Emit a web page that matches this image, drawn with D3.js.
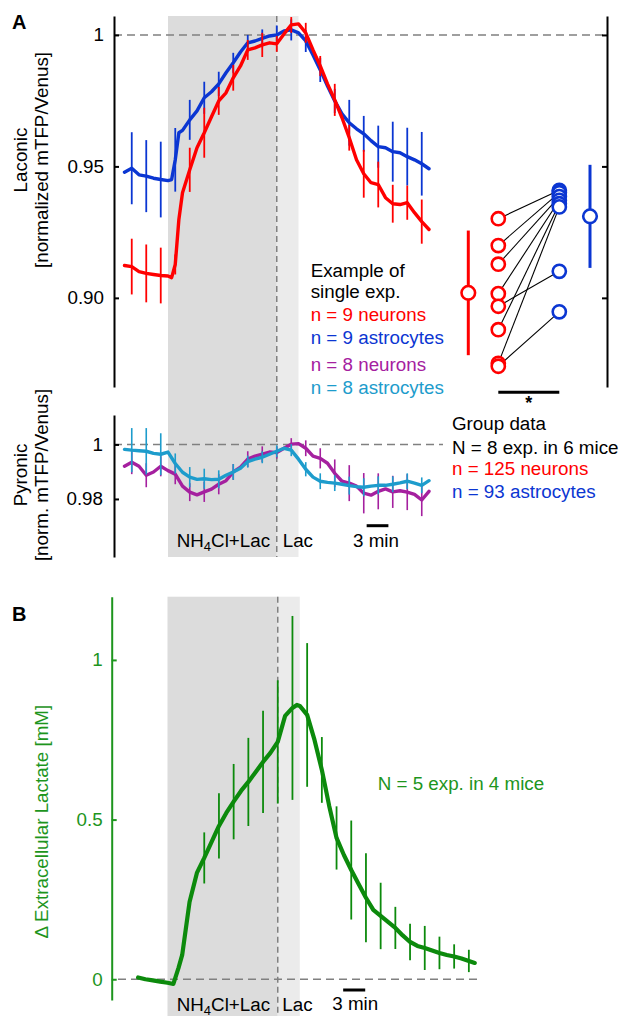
<!DOCTYPE html>
<html><head><meta charset="utf-8">
<script src="https://cdn.jsdelivr.net/npm/d3@7"></script>
<style>body{margin:0;background:#fff}svg{display:block}text{font-family:"Liberation Sans",Arial,Helvetica,sans-serif}</style>
</head><body><svg id="c" width="620" height="1016"></svg>
<script>
// ---------- DATA ----------
// epochs (min): NH4Cl+Lac onset, switch to Lac, end of Lac
const epochs = [0, 15, 18];

// Laconic (panel A top), single experiment
const lacTime   = [-6,-5,-4,-3,-2,-1,0,0.5,1,1.5,2,3,4,5,6,7,8,9,10,11,12,13,14,15,16,17,18,19,20,21,22,23,24,25,26,27,28,29,30,31,32,33,34,35,36];
const lacAstro  = [0.9478,0.9493,0.9468,0.9463,0.9455,0.9450,0.9446,0.9450,0.9525,0.9628,0.9637,0.9677,0.9711,0.9761,0.9784,0.9814,0.9856,0.9894,0.9935,0.9970,0.9977,0.9987,0.9996,1.0000,1.0015,1.0019,1.0008,0.9977,0.9924,0.9867,0.9806,0.9749,0.9700,0.9666,0.9643,0.9624,0.9598,0.9575,0.9571,0.9556,0.9552,0.9537,0.9525,0.9510,0.9491];
const lacNeuron = [0.9123,0.9119,0.9100,0.9093,0.9089,0.9085,0.9083,0.9077,0.9127,0.9298,0.9400,0.9487,0.9571,0.9628,0.9689,0.9749,0.9780,0.9837,0.9882,0.9943,0.9951,0.9962,0.9970,0.9966,1.0004,1.0038,1.0042,1.0008,0.9943,0.9882,0.9814,0.9753,0.9685,0.9609,0.9525,0.9472,0.9438,0.9431,0.9381,0.9358,0.9355,0.9362,0.9324,0.9290,0.9260];
const errTime   = [-5,-3,-1,1,3,5,7,9,11,13,15,17,19,21,23,25,27,29,31,33,35];
const lacAstroSem  = [0.0137,0.0137,0.0144,0.0121,0.0076,0.0061,0.0046,0.0038,0.0030,0.0034,0.0036,0.0040,0.0042,0.0046,0.0046,0.0087,0.0068,0.0080,0.0114,0.0110,0.0121];
const lacNeuronSem = [0.0106,0.0110,0.0106,0.0038,0.0084,0.0095,0.0053,0.0049,0.0038,0.0046,0.0030,0.0030,0.0038,0.0038,0.0061,0.0049,0.0091,0.0087,0.0072,0.0065,0.0084];

// Pyronic (panel A bottom)
const pyrTime   = [-6,-5,-4,-3,-2,-1,0,1,2,3,4,5,6,7,8,9,10,11,12,13,14,15,16,17,18,19,20,21,22,23,24,25,26,27,28,29,30,31,32,33,34,35,36];
const pyrAstro  = [0.9982,0.9979,0.9977,0.9975,0.9967,0.9964,0.9972,0.9930,0.9898,0.9880,0.9872,0.9874,0.9871,0.9872,0.9887,0.9899,0.9913,0.9937,0.9946,0.9953,0.9964,0.9975,0.9986,0.9979,0.9946,0.9909,0.9880,0.9865,0.9861,0.9858,0.9854,0.9849,0.9845,0.9843,0.9847,0.9850,0.9850,0.9854,0.9859,0.9865,0.9858,0.9850,0.9867];
const pyrNeuron = [0.9920,0.9935,0.9920,0.9887,0.9899,0.9920,0.9904,0.9891,0.9847,0.9825,0.9815,0.9826,0.9836,0.9854,0.9867,0.9899,0.9917,0.9946,0.9957,0.9964,0.9972,0.9970,0.9986,1.0001,1.0003,0.9986,0.9957,0.9949,0.9931,0.9894,0.9865,0.9858,0.9847,0.9821,0.9814,0.9828,0.9837,0.9826,0.9830,0.9825,0.9817,0.9796,0.9828];
const pyrAstroSem  = [0.0081,0.0085,0.0077,0.0037,0.0037,0.0037,0.0033,0.0029,0.0022,0.0022,0.0022,0.0022,0.0026,0.0029,0.0029,0.0033,0.0033,0.0033,0.0029,0.0029,0.0029];
const pyrNeuronSem = [0.0044,0.0044,0.0037,0.0037,0.0033,0.0037,0.0037,0.0029,0.0029,0.0029,0.0022,0.0022,0.0029,0.0037,0.0051,0.0066,0.0074,0.0066,0.0059,0.0066,0.0059];

// Group data (Laconic)
const grpCols    = ["neuronMean","neurons","astrocytes","astroMean"];
const grpNeurons = [0.9301,0.9199,0.9128,0.9016,0.8968,0.8879,0.8751,0.8740];
const grpAstro   = [0.9409,0.9400,0.9385,0.9371,0.9101,0.9358,0.9346,0.8947];
const grpMean    = [0.9019,0.9310];
const grpSem     = [0.0237,0.0196];

// Panel B: extracellular lactate
const lactTime = [-4,-3,-2,-1,0,0.8,1.5,2,3,4,5,6,7,8,9,10,11,12,13,14,15,16,17,17.6,18,19,20,21,22,23,24,25,26,27,28,29,30,31,32,33,34,35,36,37,38,39,40,41,41.8];
const lactVals = [0.0056,0.0000,-0.0035,-0.0075,-0.0110,-0.0147,0.0354,0.0761,0.2420,0.3329,0.3799,0.4300,0.4801,0.5208,0.5562,0.5897,0.6179,0.6492,0.6806,0.7087,0.7432,0.8246,0.8497,0.8591,0.8559,0.8277,0.7494,0.6555,0.5427,0.4425,0.3890,0.3420,0.2985,0.2552,0.2170,0.1982,0.1795,0.1607,0.1372,0.1168,0.1043,0.0980,0.0902,0.0824,0.0761,0.0714,0.0651,0.0573,0.0510];
const lactErrTime = [5,7,9,11,13,15,17,19,21,23,25,27,29,31,33,35,37,39,41];
const lactSem = [0.080,0.102,0.118,0.138,0.160,0.193,0.288,0.225,0.103,0.099,0.155,0.139,0.104,0.066,0.057,0.069,0.051,0.038,0.035];

const lacTicks = [0.90,0.95,1];
const pyrTicks = [0.98,1];
const lactTicks = [0,0.5,1];

// ---------- DRAWING ----------
const svg = d3.select("#c");
const FONT = 18.8;
const RED="#ff0000", BLUE="#0b36d2", PURPLE="#a5209f", CYAN="#1d9ccc", GREEN="#0c8a0c", GREENT="#1d951d", GREY="#808080";

const xA = d3.scaleLinear().domain([-6.5,36.5]).range([120.875,432.625]);
const yL = d3.scaleLinear().domain([0.8661,1.0072]).range([387,16]);
const yP = d3.scaleLinear().domain([0.9587,1.0108]).range([557,415]);
const xB = d3.scaleLinear().domain([-5,43]).range([130.75,483.55]);
const yB = d3.scaleLinear().domain([-0.065,1.198]).range([1000,596.7]);

function shade(x,y0,y1){
  svg.append("rect").attr("x",x(epochs[0])).attr("y",y0).attr("width",x(epochs[1])-x(epochs[0])).attr("height",y1-y0).attr("fill","#dcdcdc");
  svg.append("rect").attr("x",x(epochs[1])).attr("y",y0).attr("width",x(epochs[2])-x(epochs[1])).attr("height",y1-y0).attr("fill","#ebebeb");
  svg.append("line").attr("x1",x(epochs[1])).attr("x2",x(epochs[1])).attr("y1",y0).attr("y2",y1)
    .attr("stroke",GREY).attr("stroke-width",1.5).attr("stroke-dasharray","6,4");
}
function hdash(y,x0,x1){
  svg.append("line").attr("x1",x0).attr("x2",x1).attr("y1",y).attr("y2",y)
    .attr("stroke",GREY).attr("stroke-width",1.5).attr("stroke-dasharray","8,5");
}
function trace(x,y,times,vals,color,w){
  const line = d3.line().x((d,i)=>x(times[i])).y(d=>y(d));
  svg.append("path").datum(vals).attr("d",line).attr("fill","none").attr("stroke",color)
    .attr("stroke-width",w).attr("stroke-linejoin","round").attr("stroke-linecap","round");
}
function bars(x,y,times,vals,bt,sem,color,w){
  svg.append("g").selectAll("line").data(bt).join("line")
    .attr("x1",t=>x(t)).attr("x2",t=>x(t))
    .attr("y1",(t,i)=>y(vals[times.indexOf(t)]+sem[i]))
    .attr("y2",(t,i)=>y(vals[times.indexOf(t)]-sem[i]))
    .attr("stroke",color).attr("stroke-width",w);
}
function styleAxis(g,color,w){
  g.attr("font-size",FONT).attr("font-family",'"Liberation Sans",Arial,sans-serif');
  g.select(".domain").attr("stroke",color).attr("stroke-width",w);
  g.selectAll(".tick line").attr("stroke",color).attr("stroke-width",w);
  g.selectAll(".tick text").attr("fill",color);
}
function txt(x,y,s,color,opts={}){
  const t = svg.append("text").attr("x",x).attr("y",y).attr("font-size",opts.size||FONT).attr("fill",color||"#000").text(s);
  if(opts.anchor) t.attr("text-anchor",opts.anchor);
  if(opts.weight) t.attr("font-weight",opts.weight);
  return t;
}
function vtxt(x,y,s,color){
  svg.append("text").attr("transform",`translate(${x},${y}) rotate(-90)`).attr("text-anchor","middle")
    .attr("font-size",FONT).attr("fill",color||"#000").text(s);
}
function stimLabel(x,y,xlac){
  const t = svg.append("text").attr("x",x).attr("y",y).attr("font-size",FONT);
  t.append("tspan").text("NH");
  t.append("tspan").text("4").attr("font-size",13).attr("dy",4);
  t.append("tspan").text("Cl+Lac").attr("dy",-4);
  txt(xlac,y,"Lac");
}
function scaleBar(x,t0,yb,yt,xtext){
  svg.append("line").attr("x1",x(t0)).attr("x2",x(t0+3)).attr("y1",yb).attr("y2",yb).attr("stroke","#000").attr("stroke-width",3);
  txt(xtext,yt,"3 min");
}

// ----- Panel A -----
shade(xA,16,557);
hdash(yL(1),114,607);
hdash(yP(1),114,443);

trace(xA,yL,lacTime,lacAstro,BLUE,3.4);
bars(xA,yL,lacTime,lacAstro,errTime,lacAstroSem,BLUE,1.8);
trace(xA,yL,lacTime,lacNeuron,RED,3.4);
bars(xA,yL,lacTime,lacNeuron,errTime,lacNeuronSem,RED,1.8);

trace(xA,yP,pyrTime,pyrNeuron,PURPLE,3.4);
bars(xA,yP,pyrTime,pyrNeuron,errTime,pyrNeuronSem,PURPLE,1.6);
trace(xA,yP,pyrTime,pyrAstro,CYAN,3.4);
bars(xA,yP,pyrTime,pyrAstro,errTime,pyrAstroSem,CYAN,1.6);

svg.append("g").attr("transform","translate(114,0)")
  .call(d3.axisLeft(yL).tickValues(lacTicks).tickFormat(d=>d===1?"1":d3.format(".2f")(d)).tickSize(-5).tickSizeOuter(0).tickPadding(10))
  .call(g=>styleAxis(g,"#000",2));
svg.append("g").attr("transform","translate(607,0)")
  .call(d3.axisRight(yL).tickValues(lacTicks).tickFormat("").tickSize(-5).tickSizeOuter(0))
  .call(g=>styleAxis(g,"#000",2));
svg.append("g").attr("transform","translate(114,0)")
  .call(d3.axisLeft(yP).tickValues(pyrTicks).tickFormat(d=>d===1?"1":d3.format(".2f")(d)).tickSize(-5).tickSizeOuter(0).tickPadding(11))
  .call(g=>styleAxis(g,"#000",2));

// group data
const xG = d3.scaleOrdinal().domain(grpCols).range([468.3,498.3,559.3,590]);
svg.append("g").selectAll("line").data(grpNeurons).join("line")
  .attr("x1",xG("neurons")).attr("x2",xG("astrocytes"))
  .attr("y1",d=>yL(d)).attr("y2",(d,i)=>yL(grpAstro[i]))
  .attr("stroke","#000").attr("stroke-width",1.1);
[["neuronMean",RED],["astroMean",BLUE]].forEach(([k,c],i)=>{
  svg.append("line").attr("x1",xG(k)).attr("x2",xG(k)).attr("y1",yL(grpMean[i]+grpSem[i])).attr("y2",yL(grpMean[i]-grpSem[i]))
    .attr("stroke",c).attr("stroke-width",3);
  svg.append("circle").attr("cx",xG(k)).attr("cy",yL(grpMean[i])).attr("r",6.8).attr("fill","#fff").attr("stroke",c).attr("stroke-width",2.6);
});
svg.append("g").selectAll("circle").data(grpNeurons).join("circle")
  .attr("cx",xG("neurons")).attr("cy",d=>yL(d)).attr("r",6.6).attr("fill","#fff").attr("stroke",RED).attr("stroke-width",2.6);
svg.append("g").selectAll("circle").data(grpAstro).join("circle")
  .attr("cx",xG("astrocytes")).attr("cy",d=>yL(d)).attr("r",6.6).attr("fill","#fff").attr("stroke",BLUE).attr("stroke-width",2.6);
svg.append("line").attr("x1",xG("neurons")).attr("x2",xG("astrocytes")).attr("y1",392.3).attr("y2",392.3).attr("stroke","#000").attr("stroke-width",3);
txt((xG("neurons")+xG("astrocytes"))/2,408.5,"*","#000",{anchor:"middle",size:18,weight:"bold"});

// legends
txt(310.7,276.7,"Example of");
txt(310.7,298.3,"single exp.");
txt(310.7,320.7,"n = 9 neurons",RED);
txt(310.7,344,"n = 9 astrocytes",BLUE);
txt(310.7,370.7,"n = 8 neurons",PURPLE);
txt(310.7,394,"n = 8 astrocytes",CYAN);
txt(452,430,"Group data");
txt(452,454,"N = 8 exp. in 6 mice");
txt(452,475,"n = 125 neurons",RED);
txt(452,498.3,"n = 93 astrocytes",BLUE);

// axis titles
vtxt(26.7,160,"Laconic");
vtxt(48,160,"[normalized mTFP/Venus]");
vtxt(27,475,"Pyronic");
vtxt(48,475,"[norm. mTFP/Venus]");

stimLabel(176.7,546.7,282.7);
scaleBar(xA,27.4,525.7,546.7,353);
txt(12,29.3,"A","#000",{size:20,weight:"bold"});

// ----- Panel B -----
shade(xB,596.7,1016);
hdash(yB(0),118,477);
trace(xB,yB,lactTime,lactVals,GREEN,4.2);
bars(xB,yB,lactTime,lactVals,lactErrTime,lactSem,GREEN,1.8);
svg.append("g").attr("transform","translate(111.7,0)")
  .call(d3.axisLeft(yB).tickValues(lactTicks).tickFormat(d=>d===0?"0":d===1?"1":"0.5").tickSize(-5).tickSizeOuter(0).tickPadding(9))
  .call(g=>styleAxis(g,GREENT,2));
vtxt(48,821.7,"Δ Extracellular Lactate [mM]",GREENT);
txt(377.7,790,"N = 5 exp. in 4 mice",GREENT);
stimLabel(176.7,1010.5,282.3);
scaleBar(xB,23.9,990,1010,332.3);
txt(12,620.7,"B","#000",{size:20,weight:"bold"});
</script></body></html>
